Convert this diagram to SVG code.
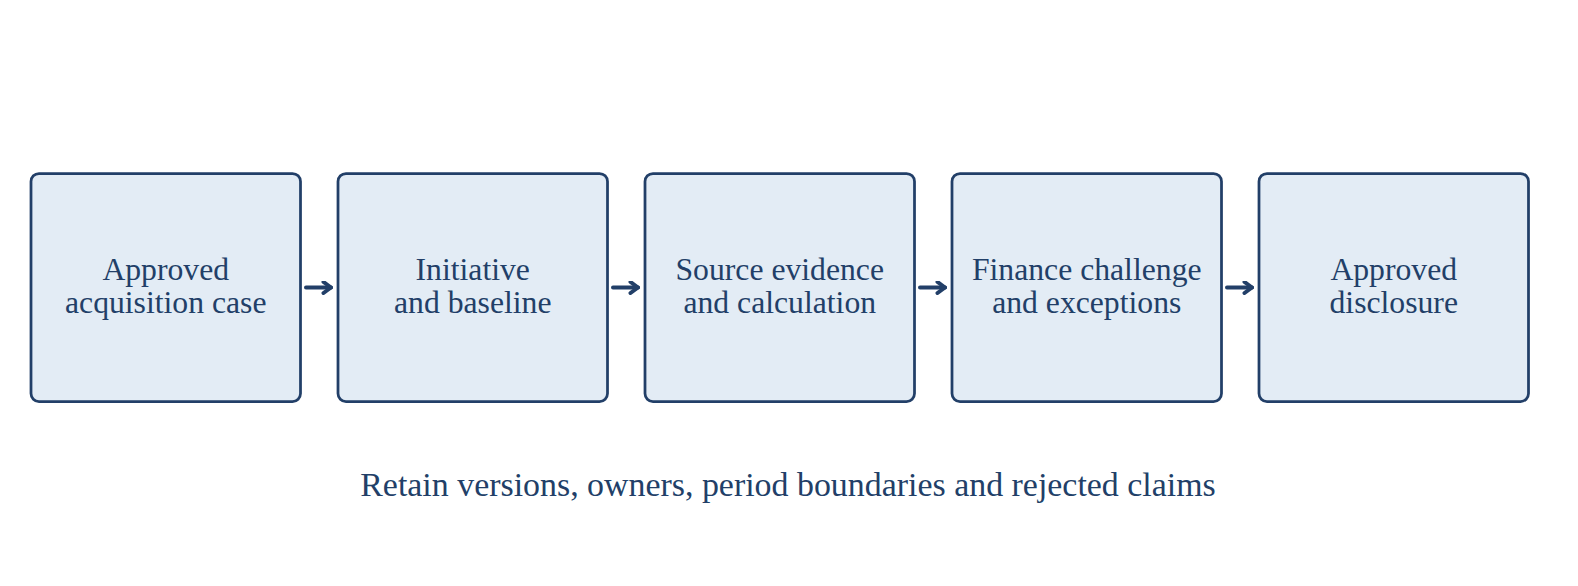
<svg xmlns="http://www.w3.org/2000/svg" width="1578" height="586" viewBox="0 0 1578 586">
  <style>
    .box { fill: #e3ecf5; stroke: #223f68; stroke-width: 2.75; }
    .lbl { font-family: "Liberation Serif", "Times New Roman", serif; font-size: 31.7px; fill: #223f68; text-anchor: middle; }
    .note { font-family: "Liberation Serif", "Times New Roman", serif; font-size: 33.9px; fill: #223f68; text-anchor: middle; }
    .conn { fill: none; stroke: #223f68; stroke-width: 4; stroke-linecap: round; stroke-linejoin: round; }
  </style>
  <defs>
    <marker id="arrow" viewBox="0 0 12 14" refX="10" refY="7" markerWidth="12" markerHeight="14" markerUnits="userSpaceOnUse" orient="auto">
      <path d="M2.5,1.5 L10,7 L2.5,12.5" fill="none" stroke="#223f68" stroke-width="4" stroke-linecap="round" stroke-linejoin="round"/>
    </marker>
  </defs>
  <rect width="1578" height="586" fill="#ffffff"/>
  <g id="connectors">
    <path class="conn" d="M306,287.5 H331" marker-end="url(#arrow)"/>
    <path class="conn" d="M613,287.5 H638" marker-end="url(#arrow)"/>
    <path class="conn" d="M920,287.5 H945" marker-end="url(#arrow)"/>
    <path class="conn" d="M1227,287.5 H1252" marker-end="url(#arrow)"/>
  </g>
  <g id="node1">
    <rect class="box" x="31" y="173.5" width="269.5" height="228" rx="8"/>
    <text class="lbl" x="165.75" y="279.5">Approved</text>
    <text class="lbl" x="165.75" y="312.5">acquisition case</text>
  </g>
  <g id="node2">
    <rect class="box" x="338" y="173.5" width="269.5" height="228" rx="8"/>
    <text class="lbl" x="472.75" y="279.5">Initiative</text>
    <text class="lbl" x="472.75" y="312.5">and baseline</text>
  </g>
  <g id="node3">
    <rect class="box" x="645" y="173.5" width="269.5" height="228" rx="8"/>
    <text class="lbl" x="779.75" y="279.5">Source evidence</text>
    <text class="lbl" x="779.75" y="312.5">and calculation</text>
  </g>
  <g id="node4">
    <rect class="box" x="952" y="173.5" width="269.5" height="228" rx="8"/>
    <text class="lbl" x="1086.75" y="279.5">Finance challenge</text>
    <text class="lbl" x="1086.75" y="312.5">and exceptions</text>
  </g>
  <g id="node5">
    <rect class="box" x="1259" y="173.5" width="269.5" height="228" rx="8"/>
    <text class="lbl" x="1393.75" y="279.5">Approved</text>
    <text class="lbl" x="1393.75" y="312.5">disclosure</text>
  </g>
  <text class="note" x="788" y="496">Retain versions, owners, period boundaries and rejected claims</text>
</svg>
